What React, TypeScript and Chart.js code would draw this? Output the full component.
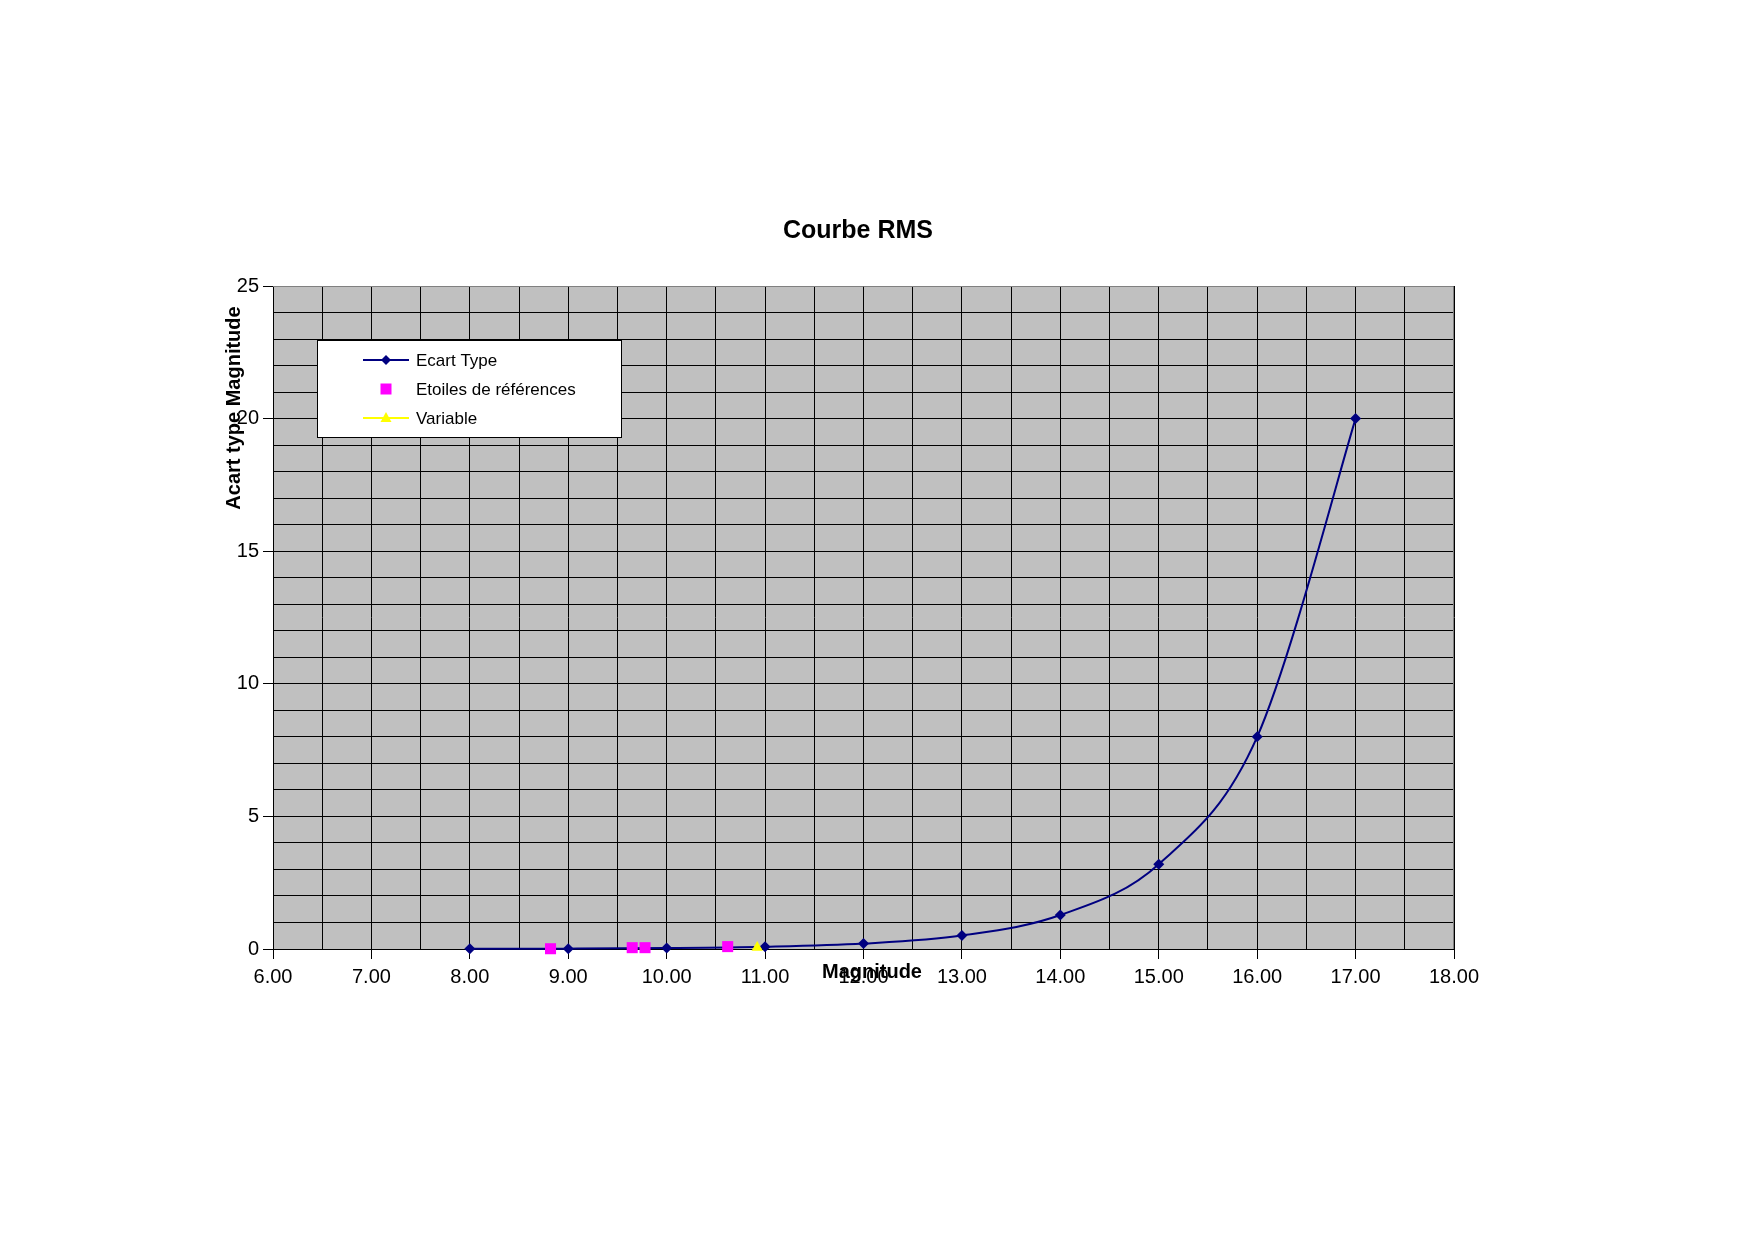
import React, { useEffect, useRef } from "react";
import { Chart, registerables } from "chart.js";

Chart.register(...registerables);

// ---- Data ----
const chartTitle = "Courbe RMS";
const xAxisTitle = "Magnitude";
const yAxisTitle = "Acart type Magnitude";

const seriesNames = ["Ecart Type", "Etoiles de références", "Variable"];

const ecartMagnitude = [8, 9, 10, 11, 12, 13, 14, 15, 16, 17];
const ecartValues = [0.005, 0.013, 0.033, 0.082, 0.205, 0.51, 1.28, 3.2, 8.0, 20.0];

const refMagnitude = [8.82, 9.65, 9.78, 10.62];
const refValues = [0.01, 0.05, 0.05, 0.09];

const variableMagnitude = [10.92];
const variableValues = [0.06];

const xTickLabels = ["6.00", "7.00", "8.00", "9.00", "10.00", "11.00", "12.00", "13.00", "14.00", "15.00", "16.00", "17.00", "18.00"];
const yTickLabels = ["0", "5", "10", "15", "20", "25"];

const FONT = "'Liberation Sans', Arial, Helvetica, sans-serif";
const NAVY = "#000080";
const MAGENTA = "#FF00FF";
const YELLOW = "#FFFF00";

function isXLabel(v: number) {
  return xTickLabels.some((l) => Math.abs(parseFloat(l) - v) < 1e-9);
}
function isYLabel(v: number) {
  return yTickLabels.some((l) => Math.abs(parseFloat(l) - v) < 1e-9);
}

// Smooth (Catmull-Rom style) line for the first dataset, drawn through the chart's scales
const smoothLinePlugin = {
  id: "smoothLine",
  beforeDatasetsDraw(chart: any) {
    const { ctx, scales } = chart;
    const pts = ecartMagnitude.map((x, i) => ({
      x: scales.x.getPixelForValue(x),
      y: scales.y.getPixelForValue(ecartValues[i]),
    }));
    ctx.save();
    ctx.strokeStyle = NAVY;
    ctx.lineWidth = 2;
    ctx.lineJoin = "round";
    ctx.beginPath();
    ctx.moveTo(pts[0].x, pts[0].y);
    for (let i = 0; i < pts.length - 1; i++) {
      const p0 = pts[Math.max(0, i - 1)];
      const p1 = pts[i];
      const p2 = pts[i + 1];
      const p3 = pts[Math.min(pts.length - 1, i + 2)];
      const c1x = p1.x + (p2.x - p0.x) / 6;
      const c1y = p1.y + (p2.y - p0.y) / 6;
      const c2x = p2.x - (p3.x - p1.x) / 6;
      const c2y = p2.y - (p3.y - p1.y) / 6;
      ctx.bezierCurveTo(c1x, c1y, c2x, c2y, p2.x, p2.y);
    }
    ctx.stroke();
    ctx.restore();
  },
};

const decorPlugin = {
  id: "decor",
  beforeDraw(chart: any) {
    const { ctx, chartArea } = chart;
    ctx.save();
    ctx.fillStyle = "#FFFFFF";
    ctx.fillRect(0, 0, chart.width, chart.height);
    ctx.fillStyle = "#C0C0C0";
    ctx.fillRect(chartArea.left, chartArea.top, chartArea.right - chartArea.left, chartArea.bottom - chartArea.top);
    ctx.restore();
  },
  beforeDatasetsDraw(chart: any) {
    const { ctx, chartArea } = chart;
    ctx.save();
    ctx.strokeStyle = "#808080";
    ctx.lineWidth = 1;
    ctx.beginPath();
    ctx.moveTo(chartArea.left, chartArea.top + 0.5);
    ctx.lineTo(chartArea.right - 0.5, chartArea.top + 0.5);
    ctx.lineTo(chartArea.right - 0.5, chartArea.bottom);
    ctx.stroke();
    ctx.restore();
  },
  afterDraw(chart: any) {
    const { ctx } = chart;
    ctx.save();
    // Title
    ctx.fillStyle = "#000";
    ctx.font = `bold 25px ${FONT}`;
    ctx.textAlign = "center";
    ctx.textBaseline = "alphabetic";
    ctx.fillText(chartTitle, 858, 238);

    // X axis title (overlapping tick labels, as in the reference)
    ctx.font = `bold 20px ${FONT}`;
    ctx.fillText(xAxisTitle, 872, 978);

    // Y axis title
    ctx.save();
    ctx.translate(240, 408);
    ctx.rotate(-Math.PI / 2);
    ctx.textAlign = "center";
    ctx.textBaseline = "alphabetic";
    ctx.fillText(yAxisTitle, 0, 0);
    ctx.restore();

    // Legend box
    const lx = 317.5, ly = 340.5, lw = 304, lh = 97;
    ctx.fillStyle = "#FFFFFF";
    ctx.fillRect(lx, ly, lw, lh);
    ctx.strokeStyle = "#000";
    ctx.lineWidth = 1;
    ctx.strokeRect(lx, ly, lw, lh);

    const rows = [360, 389, 418];
    const mx = 386;
    // row 1: line + diamond
    ctx.strokeStyle = NAVY;
    ctx.lineWidth = 2;
    ctx.beginPath();
    ctx.moveTo(363, rows[0]);
    ctx.lineTo(409, rows[0]);
    ctx.stroke();
    ctx.fillStyle = NAVY;
    ctx.beginPath();
    ctx.moveTo(mx, rows[0] - 5);
    ctx.lineTo(mx + 5, rows[0]);
    ctx.lineTo(mx, rows[0] + 5);
    ctx.lineTo(mx - 5, rows[0]);
    ctx.closePath();
    ctx.fill();
    // row 2: square
    ctx.fillStyle = MAGENTA;
    ctx.fillRect(mx - 5.5, rows[1] - 5.5, 11, 11);
    // row 3: line + triangle
    ctx.strokeStyle = YELLOW;
    ctx.lineWidth = 2;
    ctx.beginPath();
    ctx.moveTo(363, rows[2]);
    ctx.lineTo(409, rows[2]);
    ctx.stroke();
    ctx.fillStyle = YELLOW;
    ctx.beginPath();
    ctx.moveTo(mx, rows[2] - 6);
    ctx.lineTo(mx + 5.5, rows[2] + 4);
    ctx.lineTo(mx - 5.5, rows[2] + 4);
    ctx.closePath();
    ctx.fill();

    ctx.fillStyle = "#000";
    ctx.font = `17px ${FONT}`;
    ctx.textAlign = "left";
    ctx.textBaseline = "middle";
    seriesNames.forEach((n, i) => ctx.fillText(n, 416, rows[i] + 1));
    ctx.restore();
  },
};

export default function App() {
  const canvasRef = useRef<HTMLCanvasElement | null>(null);

  useEffect(() => {
    if (!canvasRef.current) return;
    Chart.defaults.font.family = FONT;
    const chart = new Chart(canvasRef.current, {
      type: "scatter",
      data: {
        datasets: [
          {
            label: seriesNames[0],
            data: ecartMagnitude.map((x, i) => ({ x, y: ecartValues[i] })),
            showLine: false,
            borderColor: NAVY,
            backgroundColor: NAVY,
            borderWidth: 2,
            pointStyle: "rectRot",
            pointRadius: 5.5,
            pointBorderWidth: 0,
            clip: false,
            order: 3,
          },
          {
            label: seriesNames[1],
            data: refMagnitude.map((x, i) => ({ x, y: refValues[i] })),
            showLine: false,
            borderColor: MAGENTA,
            backgroundColor: MAGENTA,
            pointStyle: "rect",
            pointRadius: 7.8,
            pointBorderWidth: 0,
            clip: false,
            order: 2,
          },
          {
            label: seriesNames[2],
            data: variableMagnitude.map((x, i) => ({ x, y: variableValues[i] })),
            showLine: false,
            borderColor: YELLOW,
            backgroundColor: YELLOW,
            pointStyle: "triangle",
            pointRadius: 6.5,
            pointBorderWidth: 0,
            clip: false,
            order: 1,
          },
        ],
      },
      options: {
        responsive: false,
        animation: false,
        devicePixelRatio: 1,
        layout: { padding: { left: 193, top: 286, right: 300, bottom: 232 } },
        plugins: {
          legend: { display: false },
          title: { display: false },
          tooltip: { enabled: false },
        },
        scales: {
          x: {
            type: "linear",
            min: 6,
            max: 18,
            afterFit: (s: any) => {
              s.height = 60;
            },
            ticks: {
              stepSize: 0.5,
              autoSkip: false,
              maxRotation: 0,
              padding: 6,
              color: "#000",
              font: { size: 20, family: FONT },
              callback: (v: any) => {
                const n = Number(v);
                const idx = xTickLabels.findIndex((l) => Math.abs(parseFloat(l) - n) < 1e-9);
                return idx >= 0 ? xTickLabels[idx] : "";
              },
            },
            grid: {
              color: "#000",
              lineWidth: 1,
              tickLength: 10,
              tickColor: (ctx: any) => (ctx.tick && isXLabel(ctx.tick.value) ? "#000" : "rgba(0,0,0,0)"),
            },
            border: { display: true, color: "#000", width: 1 },
          },
          y: {
            type: "linear",
            min: 0,
            max: 25,
            afterFit: (s: any) => {
              s.width = 80;
            },
            ticks: {
              stepSize: 1,
              autoSkip: false,
              padding: 4,
              color: "#000",
              font: { size: 20, family: FONT },
              callback: (v: any) => {
                const n = Number(v);
                const idx = yTickLabels.findIndex((l) => Math.abs(parseFloat(l) - n) < 1e-9);
                return idx >= 0 ? yTickLabels[idx] : "";
              },
            },
            grid: {
              color: "#000",
              lineWidth: 1,
              tickLength: 10,
              tickColor: (ctx: any) => (ctx.tick && isYLabel(ctx.tick.value) ? "#000" : "rgba(0,0,0,0)"),
            },
            border: { display: true, color: "#000", width: 1 },
          },
        },
      },
      plugins: [decorPlugin, smoothLinePlugin],
    } as any);
    return () => chart.destroy();
  }, []);

  return (
    <div style={{ position: "absolute", left: 0, top: 0, width: 1754, height: 1241, background: "#fff" }}>
      <canvas ref={canvasRef} width={1754} height={1241} style={{ display: "block" }} />
    </div>
  );
}
